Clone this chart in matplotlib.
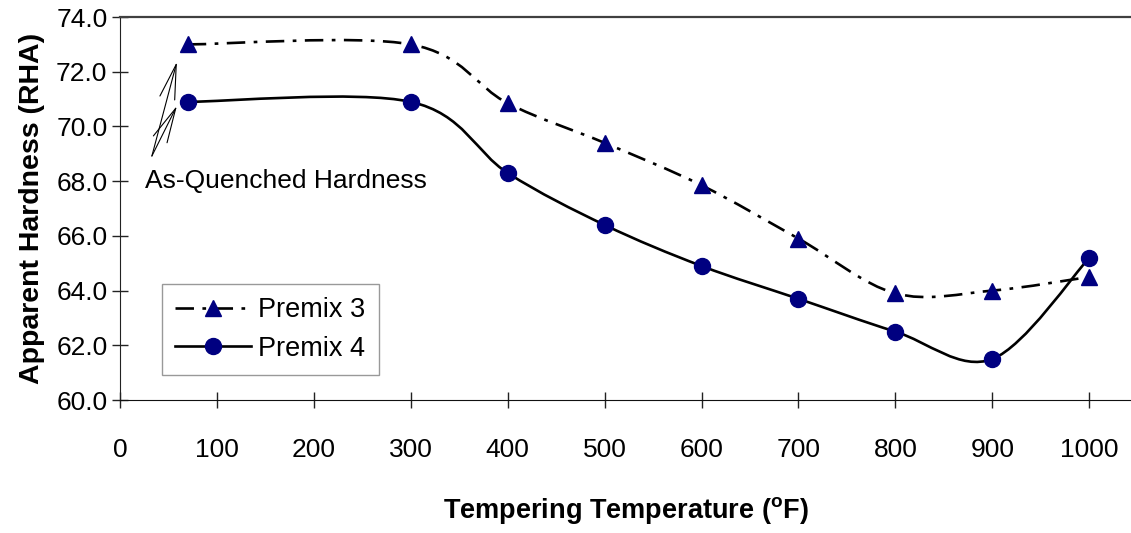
import numpy as np
import matplotlib
matplotlib.use("Agg")
import matplotlib.pyplot as plt
from matplotlib.path import Path
from matplotlib.patches import PathPatch
from matplotlib.lines import Line2D

plt.rcParams["font.family"] = ["Liberation Sans", "DejaVu Sans"]
plt.rcParams["mathtext.fontset"] = "custom"
plt.rcParams["mathtext.rm"] = "Liberation Sans"
plt.rcParams["mathtext.bf"] = "Liberation Sans:bold"

# Tempering temperature (F) and apparent hardness (RHA)
temps = [70, 300, 400, 500, 600, 700, 800, 900, 1000]
premix3 = [73.0, 73.0, 70.85, 69.4, 67.85, 65.9, 63.9, 64.0, 64.5]
premix4 = [70.9, 70.9, 68.3, 66.4, 64.9, 63.7, 62.5, 61.5, 65.2]

x_ticks = list(range(0, 1001, 100))
y_ticks = [60.0, 62.0, 64.0, 66.0, 68.0, 70.0, 72.0, 74.0]

NAVY = "#000080"


def smooth_path(xs, ys):
    # Excel style smoothed line: cubic bezier with catmull-rom control points
    pts = np.column_stack([xs, ys]).astype(float)
    n = len(pts)
    verts = [pts[0]]
    codes = [Path.MOVETO]
    for i in range(n - 1):
        p_prev = pts[i - 1] if i > 0 else pts[i]
        p_next2 = pts[i + 2] if i + 2 < n else pts[i + 1]
        c1 = pts[i] + (pts[i + 1] - p_prev) / 6.0
        c2 = pts[i + 1] - (p_next2 - pts[i]) / 6.0
        verts += [c1, c2, pts[i + 1]]
        codes += [Path.CURVE4] * 3
    return Path(verts, codes)


fig = plt.figure(figsize=(11.31, 5.33), dpi=100)
ax = fig.add_axes([0.106, 0.2495, 0.894, 0.7185])

dash3 = (0, (7.0, 3.2, 1.4, 3.2))
lw = 1.9

ax.add_patch(PathPatch(smooth_path(temps, premix3), fill=False, ec="black",
                       lw=lw, linestyle=dash3, zorder=2))
ax.add_patch(PathPatch(smooth_path(temps, premix4), fill=False, ec="black",
                       lw=lw, zorder=2))
ax.plot(temps, premix3, linestyle="none", marker="^", ms=12, color=NAVY, zorder=3)
ax.plot(temps, premix4, linestyle="none", marker="o", ms=11.5, color=NAVY, zorder=3)

ax.set_xlim(0, 1043)
ax.set_ylim(60, 74)
ax.set_xticks(x_ticks)
ax.set_xticklabels([str(t) for t in x_ticks])
ax.set_yticks(y_ticks)
ax.set_yticklabels([f"{v:.1f}" for v in y_ticks])
ax.tick_params(axis="both", direction="inout", length=12, width=1.0,
               labelsize=19, color="#222222")
ax.tick_params(axis="x", pad=21)
ax.tick_params(axis="y", pad=3)

ax.spines["right"].set_visible(False)
ax.spines["top"].set_color("#404040")
ax.spines["top"].set_linewidth(1.6)
ax.spines["left"].set_color("#222222")
ax.spines["bottom"].set_color("#111111")

ax.set_xlabel(r"Tempering Temperature ($\mathbf{^{o}}$F)", fontsize=19.5,
              fontweight="bold", labelpad=24)
ax.set_ylabel("Apparent Hardness (RHA)", fontsize=20.5, fontweight="bold",
              labelpad=8)

# As-quenched annotation with two open arrows
ax.text(25.5, 68.0, "As-Quenched Hardness", fontsize=19, ha="left", va="center")
tail = (33, 68.92)
for head in [(58.8, 72.36), (58.8, 70.75)]:
    ax.annotate("", xy=head, xytext=tail,
                arrowprops=dict(arrowstyle="->,head_length=2.5,head_width=0.55",
                                lw=0.8, color="black", shrinkA=0, shrinkB=0,
                                mutation_scale=10))

handles = [
    Line2D([], [], color="black", lw=lw, linestyle=dash3, marker="^",
           ms=12, mfc=NAVY, mec=NAVY),
    Line2D([], [], color="black", lw=lw, marker="o", ms=11.5, mfc=NAVY, mec=NAVY),
]
leg = ax.legend(handles, ["Premix 3", "Premix 4"], loc="lower left",
                bbox_to_anchor=(0.0415, 0.065), borderaxespad=0, fontsize=19.5,
                frameon=True, fancybox=False, edgecolor="#808080",
                handlelength=2.8, handletextpad=0.25, borderpad=0.5,
                labelspacing=0.45, numpoints=1)
leg.get_frame().set_linewidth(1.0)

fig.savefig("out.png", dpi=100)
